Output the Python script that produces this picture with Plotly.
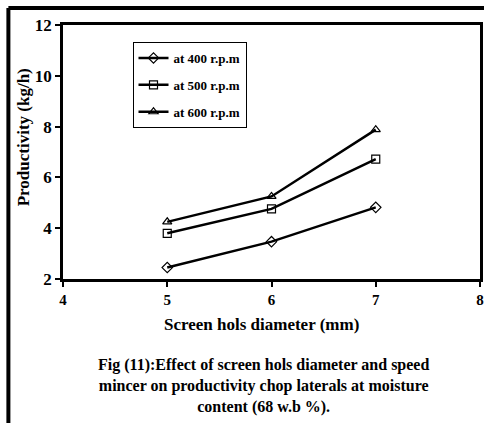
import plotly.graph_objects as go

x_vals = [5, 6, 7]
rpm400 = [2.45, 3.47, 4.82]
rpm500 = [3.8, 4.76, 6.72]
rpm600 = [4.25, 5.25, 7.88]
names = ["at 400 r.p.m", "at 500 r.p.m", "at 600 r.p.m"]
symbols = ["diamond-open", "square-open", "triangle-up-open"]
x_ticks = [4, 5, 6, 7, 8]
y_ticks = [2, 4, 6, 8, 10, 12]

fig = go.Figure()
for i, (ys, nm, sym) in enumerate(zip([rpm400, rpm500, rpm600], names, symbols)):
    fig.add_trace(go.Scatter(
        x=x_vals, y=ys, name=f"<b>{nm}</b>", mode="lines+markers",
        legendgroup=f"g{i}",
        line=dict(color="black", width=2.5),
        marker=dict(symbol=sym, size=8, color="black", line=dict(width=1.2, color="black")),
    ))

font_family = "Liberation Serif, Times New Roman, serif"
W, H = 484, 423
ml, mr, mt, mb = 63, 1, 25, H - 279
pw, ph = W - ml - mr, H - mt - mb

def px(xp):
    return (xp - ml) / pw

def py(yp):
    return (H - mb - yp) / ph

fig.update_layout(
    width=W, height=H,
    margin=dict(l=ml, r=mr, t=mt, b=mb),
    paper_bgcolor="white", plot_bgcolor="white",
    font=dict(family=font_family, color="black", size=14),
    showlegend=True,
    legend=dict(
        x=px(133), y=py(42), xanchor="left", yanchor="top",
        bordercolor="black", borderwidth=1, bgcolor="white",
        font=dict(family=font_family, size=13, color="black"),
        traceorder="grouped", tracegroupgap=7,
        itemwidth=30,
    ),
    xaxis=dict(
        range=[4, 8], tickvals=x_ticks, ticktext=[f"<b>{v}</b>" for v in x_ticks],
        showgrid=False, zeroline=False,
        showline=True, linecolor="black", linewidth=2.5, mirror=True,
        ticks="outside", tickcolor="black", ticklen=5, tickwidth=1.5,
        tickfont=dict(family=font_family, size=15, color="black"),
    ),
    yaxis=dict(
        range=[2, 12], tickvals=y_ticks, ticktext=[f"<b>{v}</b>" for v in y_ticks],
        showgrid=False, zeroline=False,
        showline=True, linecolor="black", linewidth=2.5, mirror=True,
        ticks="outside", tickcolor="black", ticklen=5, tickwidth=1.5,
        tickfont=dict(family=font_family, size=17, color="black"),
    ),
    shapes=[
        dict(type="line", xref="paper", yref="paper",
             x0=px(8), x1=px(8), y0=py(8), y1=py(440),
             line=dict(color="black", width=4)),
        dict(type="line", xref="paper", yref="paper",
             x0=px(8), x1=px(500), y0=py(8), y1=py(8),
             line=dict(color="black", width=4)),
    ],
    annotations=[
        dict(xref="paper", yref="paper", x=px(263), y=py(324), xanchor="center", yanchor="middle",
             showarrow=False, text="<b>Screen hols diameter (mm)</b>",
             font=dict(family=font_family, size=17, color="black")),
        dict(xref="paper", yref="paper", x=px(23), y=py(137), xanchor="center", yanchor="middle",
             showarrow=False, textangle=-90, text="<b>Productivity (kg/h)</b>",
             font=dict(family=font_family, size=17, color="black")),
        dict(xref="paper", yref="paper", x=px(265), y=py(386), xanchor="center", yanchor="middle",
             showarrow=False, align="center",
             text="<b>Fig (11):Effect of screen hols diameter and speed<br>mincer on productivity chop laterals at moisture<br>content (68 w.b %).</b>",
             font=dict(family=font_family, size=16, color="black")),
    ],
)

fig.write_html("out.html", config={"displayModeBar": False},
               post_script="document.body.style.margin='0';document.body.style.overflow='hidden';")
